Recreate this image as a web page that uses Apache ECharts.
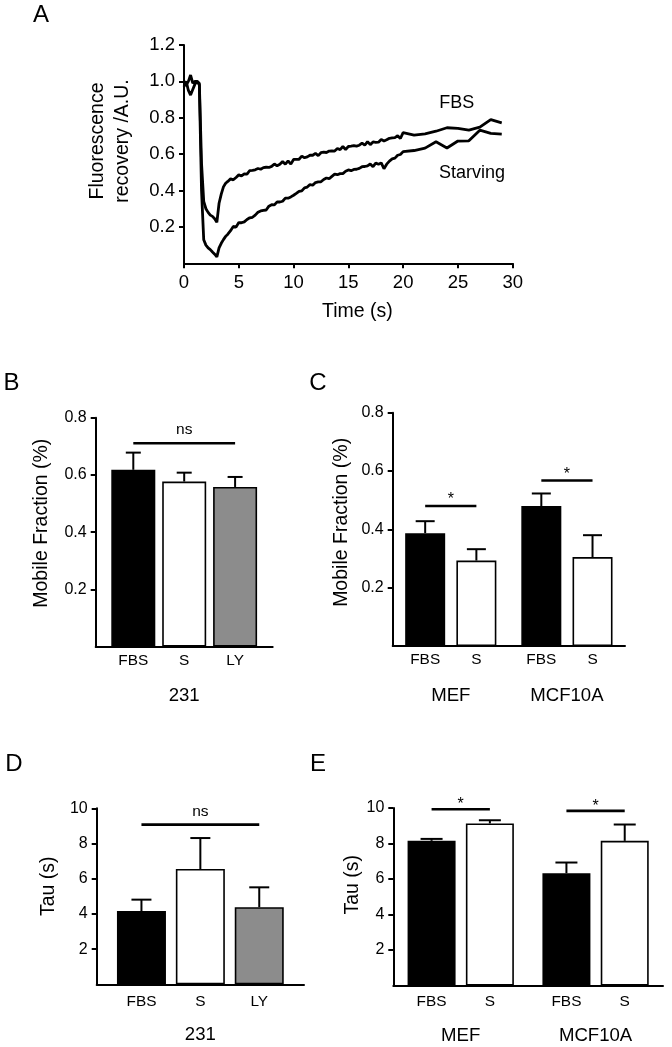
<!DOCTYPE html>
<html><head><meta charset="utf-8">
<script src="https://cdn.jsdelivr.net/npm/echarts@6/dist/echarts.min.js"></script>
<style>html,body{margin:0;padding:0;background:#fff}#c{width:672px;height:1047px}</style>
</head><body><div id="c"></div>
<script>
// ---------- Panel A : FRAP recovery curves ----------
const timeSec = [0,0.2,0.4,0.6,0.8,1.0,1.2,1.4,1.6,1.8,2.0,2.2,2.4,2.6,2.8,3.0,3.2,3.4,3.6,3.8,
  4.0,4.25,4.5,4.75,5.0,5.25,5.5,5.75,6.0,6.25,6.5,6.75,7.0,7.25,7.5,7.75,8.0,8.25,8.5,8.75,
  9.0,9.25,9.5,9.75,10.0,10.25,10.5,10.75,11.0,11.25,11.5,11.75,12.0,12.25,12.5,12.75,
  13.0,13.25,13.5,13.75,14.0,14.25,14.5,14.75,15.0,15.25,15.5,15.75,16.0,16.25,16.5,16.75,
  17.0,17.25,17.5,17.75,18.0,18.25,18.5,18.75,19.0,19.25,19.5,19.75,20.0,
  21,22,23,24,25,26,27,28,29];
const fbsRecovery = [1.00,0.98,1.00,1.035,0.99,1.00,1.00,0.99,0.55,0.34,0.30,0.28,0.265,0.258,0.245,0.225,0.33,0.38,0.42,0.44,
  0.450,0.464,0.459,0.472,0.486,0.480,0.491,0.490,0.510,0.511,0.514,0.521,0.517,0.526,0.528,0.527,0.533,0.546,0.536,0.544,
  0.559,0.545,0.563,0.545,0.571,0.571,0.572,0.589,0.580,0.585,0.594,0.594,0.604,0.592,0.608,0.611,
  0.609,0.617,0.618,0.617,0.631,0.625,0.642,0.626,0.642,0.644,0.647,0.644,0.649,0.660,0.649,0.669,
  0.652,0.667,0.665,0.666,0.681,0.672,0.679,0.687,0.689,0.691,0.701,0.686,0.718,
  0.705,0.712,0.726,0.745,0.742,0.732,0.748,0.790,0.772];
const starvRecovery = [0.97,1.00,0.95,0.925,0.955,0.985,1.00,0.98,0.40,0.13,0.10,0.085,0.075,0.062,0.05,0.035,0.085,0.11,0.13,0.148,
  0.160,0.179,0.203,0.199,0.224,0.223,0.228,0.241,0.250,0.253,0.265,0.281,0.288,0.291,0.293,0.314,0.322,0.321,0.338,0.337,
  0.341,0.358,0.358,0.365,0.374,0.384,0.395,0.398,0.415,0.419,0.433,0.429,0.444,0.448,0.448,0.461,
  0.469,0.465,0.478,0.490,0.487,0.493,0.493,0.506,0.513,0.509,0.516,0.517,0.522,0.531,0.532,0.536,
  0.546,0.531,0.551,0.544,0.552,0.520,0.545,0.562,0.574,0.578,0.594,0.598,0.614,
  0.620,0.633,0.668,0.634,0.672,0.673,0.732,0.714,0.710];
const aYTicks = [0.2,0.4,0.6,0.8,1.0,1.2];

// ---------- Panel B : mobile fraction, 231 ----------
const bGroups = ['231'];
const bConds = ['FBS','S','LY'];
const bMean = [[0.618],[0.577],[0.558]];
const bSem = [[0.060],[0.031],[0.035]];
const bSigY = [0.711];
const bSigText = ['ns'];
const bTicks = [0.2,0.4,0.6,0.8];

// ---------- Panel C : mobile fraction, MEF / MCF10A ----------
const cGroups = ['MEF','MCF10A'];
const cConds = ['FBS','S'];
const cMean = [[0.387,0.480],[0.293,0.305]];
const cSem = [[0.041,0.043],[0.039,0.075]];
const cSigY = [0.480,0.5675];
const cSigText = ['*','*'];
const cTicks = [0.2,0.4,0.6,0.8];

// ---------- Panel D : tau, 231 ----------
const dGroups = ['231'];
const dConds = ['FBS','S','LY'];
const dMean = [[4.16],[6.55],[4.38]];
const dSem = [[0.65],[1.76],[1.13]];
const dSigY = [9.07];
const dSigText = ['ns'];
const dTicks = [2,4,6,8,10];

// ---------- Panel E : tau, MEF / MCF10A ----------
const eGroups = ['MEF','MCF10A'];
const eConds = ['FBS','S'];
const eMean = [[8.15,6.33],[9.13,8.15]];
const eSem = [[0.11,0.60],[0.18,0.92]];
const eSigY = [9.93,9.84];
const eSigText = ['*','*'];
const eTicks = [2,4,6,8,10];

// ---------- styling / layout ----------
const FONT = "'Liberation Sans', Arial, Helvetica, sans-serif";
const INK = '#000';
const condColor = {FBS:'#000000', S:'#ffffff', LY:'#8c8c8c'};

const grids = [
  {left:184, top:45, width:328.7, height:218.3},
  {left:95.7, top:417.7, width:177, height:229},
  {left:392.7, top:412.7, width:232.3, height:233.3},
  {left:96.7, top:808.3, width:207.3, height:176},
  {left:393.3, top:808, width:269.7, height:177.6}
].map(g => Object.assign({outerBoundsMode:'none', containLabel:false}, g));

const panels = [
  {i:1, groups:bGroups, conds:bConds, mean:bMean, sem:bSem, sigY:bSigY, sigText:bSigText, ticks:bTicks,
   max:0.8, interval:0.2, fmt:v=>v.toFixed(1), bw:44, gap:6.9, cap:15, labelDist:6.5, catMargin:40,
   name:'Mobile Fraction (%)', nameGap:44, namePad:18, sigOff:[-13,-6]},
  {i:2, groups:cGroups, conds:cConds, mean:cMean, sem:cSem, sigY:cSigY, sigText:cSigText, ticks:cTicks,
   max:0.8, interval:0.2, fmt:v=>v.toFixed(1), bw:40, gap:11.2, cap:19, labelDist:6.5, catMargin:40,
   name:'Mobile Fraction (%)', nameGap:41, namePad:14, sigOff:[-13,-6]},
  {i:3, groups:dGroups, conds:dConds, mean:dMean, sem:dSem, sigY:dSigY, sigText:dSigText, ticks:dTicks,
   max:10, interval:2, fmt:v=>String(v), bw:49, gap:9.9, cap:20, labelDist:9.5, catMargin:41.5,
   name:'Tau (s)', nameGap:38, namePad:20, sigOff:[-12.5,-4.5]},
  {i:4, groups:eGroups, conds:eConds, mean:eMean, sem:eSem, sigY:eSigY, sigText:eSigText, ticks:eTicks,
   max:10, interval:2, fmt:v=>String(v), bw:48, gap:10.3, cap:22, labelDist:9, catMargin:41,
   name:'Tau (s)', nameGap:26, namePad:24, sigOff:[-12.5,-4.5]}
];

const xAxes = [{
  gridIndex:0, type:'value', min:0, max:30, interval:5,
  axisLine:{show:true, onZero:false, lineStyle:{color:INK, width:2}},
  axisTick:{show:true, length:5, lineStyle:{color:INK, width:2}},
  axisLabel:{color:INK, fontSize:18.5, fontFamily:FONT, margin:10},
  splitLine:{show:false},
  name:'Time (s)', nameLocation:'middle', nameGap:38,
  nameTextStyle:{color:INK, fontSize:19.5, fontFamily:FONT, padding:[0,0,0,18]}
}];
const yAxes = [{
  gridIndex:0, type:'value', min:0, max:1.2, interval:0.2,
  axisLine:{show:true, onZero:false, lineStyle:{color:INK, width:2}},
  axisTick:{show:true, length:5, customValues:aYTicks, lineStyle:{color:INK, width:2}},
  axisLabel:{color:INK, fontSize:18.5, fontFamily:FONT, margin:9, customValues:aYTicks, formatter:v=>v.toFixed(1)},
  splitLine:{show:false}
}];

const series = [
  {type:'line', xAxisIndex:0, yAxisIndex:0, showSymbol:false, symbol:'none', silent:true,
   data: timeSec.map((t,k)=>[t, fbsRecovery[k]]), lineStyle:{color:INK, width:2.8}},
  {type:'line', xAxisIndex:0, yAxisIndex:0, showSymbol:false, symbol:'none', silent:true,
   data: timeSec.map((t,k)=>[t, starvRecovery[k]]), lineStyle:{color:INK, width:2.8}}
];

panels.forEach(p => {
  xAxes.push({
    gridIndex:p.i, type:'category', data:p.groups,
    axisLine:{show:true, onZero:false, lineStyle:{color:INK, width:2}},
    axisTick:{show:false},
    axisLabel:{color:INK, fontSize:18.6, fontFamily:FONT, margin:p.catMargin},
    splitLine:{show:false}
  });
  yAxes.push({
    gridIndex:p.i, type:'value', min:0, max:p.max, interval:p.interval,
    axisLine:{show:true, onZero:false, lineStyle:{color:INK, width:2}},
    axisTick:{show:true, length:5, customValues:p.ticks, lineStyle:{color:INK, width:2}},
    axisLabel:{color:INK, fontSize:16, fontFamily:FONT, margin:9, customValues:p.ticks, formatter:p.fmt},
    splitLine:{show:false},
    name:p.name, nameLocation:'middle', nameGap:p.nameGap,
    nameTextStyle:{color:INK, fontSize:19.5, fontFamily:FONT, padding:[0,0,0,p.namePad]}
  });
  const n = p.conds.length, step = p.bw + p.gap;
  p.conds.forEach((cond,k) => {
    series.push({
      type:'bar', name:cond, xAxisIndex:p.i, yAxisIndex:p.i, silent:true,
      data:p.mean[k], barWidth:p.bw, barGap:(p.gap/p.bw*100)+'%',
      itemStyle:{color:condColor[cond], borderColor:INK, borderWidth:1.6},
      label:{show:true, position:'bottom', distance:p.labelDist, formatter:cond,
             color:INK, fontSize:15.4, fontFamily:FONT}
    });
  });
  const errData = [];
  p.conds.forEach((cond,k) => p.groups.forEach((g,gi) => errData.push([gi, p.mean[k][gi], p.sem[k][gi], k])));
  series.push({
    type:'custom', xAxisIndex:p.i, yAxisIndex:p.i, silent:true, z:5, data:errData, encode:{x:0, y:1},
    renderItem:(params, api) => {
      const gi = api.value(0), m = api.value(1), s = api.value(2), k = api.value(3);
      const base = api.coord([gi, m]), top = api.coord([gi, m + s]);
      const x = base[0] + (k - (n-1)/2) * step;
      const st = {stroke:INK, lineWidth:2};
      return {type:'group', children:[
        {type:'line', shape:{x1:x, y1:base[1], x2:x, y2:top[1]}, style:st},
        {type:'line', shape:{x1:x-p.cap/2, y1:top[1], x2:x+p.cap/2, y2:top[1]}, style:st}
      ]};
    }
  });
  const sigData = p.sigY.map((y,gi) => [gi, y]);
  series.push({
    type:'custom', xAxisIndex:p.i, yAxisIndex:p.i, silent:true, z:5, data:sigData, encode:{x:0, y:1},
    renderItem:(params, api) => {
      const gi = api.value(0), y = api.value(1);
      const c = api.coord([gi, y]);
      const half = (n-1)/2 * step;
      const txt = p.sigText[params.dataIndex];
      const off = txt === '*' ? p.sigOff[1] : p.sigOff[0];
      return {type:'group', children:[
        {type:'line', shape:{x1:c[0]-half, y1:c[1], x2:c[0]+half, y2:c[1]}, style:{stroke:INK, lineWidth:2.6}},
        {type:'text', x:c[0], y:c[1]+off, style:{text:txt, fill:INK, fontSize: txt==='*'?16:15.5,
          fontFamily:FONT, align:'center', verticalAlign:'middle'}}
      ]};
    }
  });
});

const letter = (t,x,y) => ({type:'text', x, y, style:{text:t, fill:INK, fontSize:24, fontFamily:FONT, align:'center', verticalAlign:'middle'}});

const option = {
  animation:false,
  backgroundColor:'#fff',
  textStyle:{fontFamily:FONT},
  grid:grids, xAxis:xAxes, yAxis:yAxes, series,
  graphic:[
    letter('A',41,15.5), letter('B',11.5,383.5), letter('C',318,383.5), letter('D',14,764), letter('E',318,764),
    {type:'text', x:110, y:141, rotation:Math.PI/2,
     style:{text:'Fluorescence\nrecovery /A.U.', fill:INK, fontSize:19.5, lineHeight:25, fontFamily:FONT, align:'center', verticalAlign:'middle'}},
    {type:'text', x:456.7, y:102.7, style:{text:'FBS', fill:INK, fontSize:18, fontFamily:FONT, align:'center', verticalAlign:'middle'}},
    {type:'text', x:472, y:172.7, style:{text:'Starving', fill:INK, fontSize:18, fontFamily:FONT, align:'center', verticalAlign:'middle'}}
  ]
};
const chart = echarts.init(document.getElementById('c'), null, {renderer:'canvas'});
chart.setOption(option);
</script>
</body></html>
